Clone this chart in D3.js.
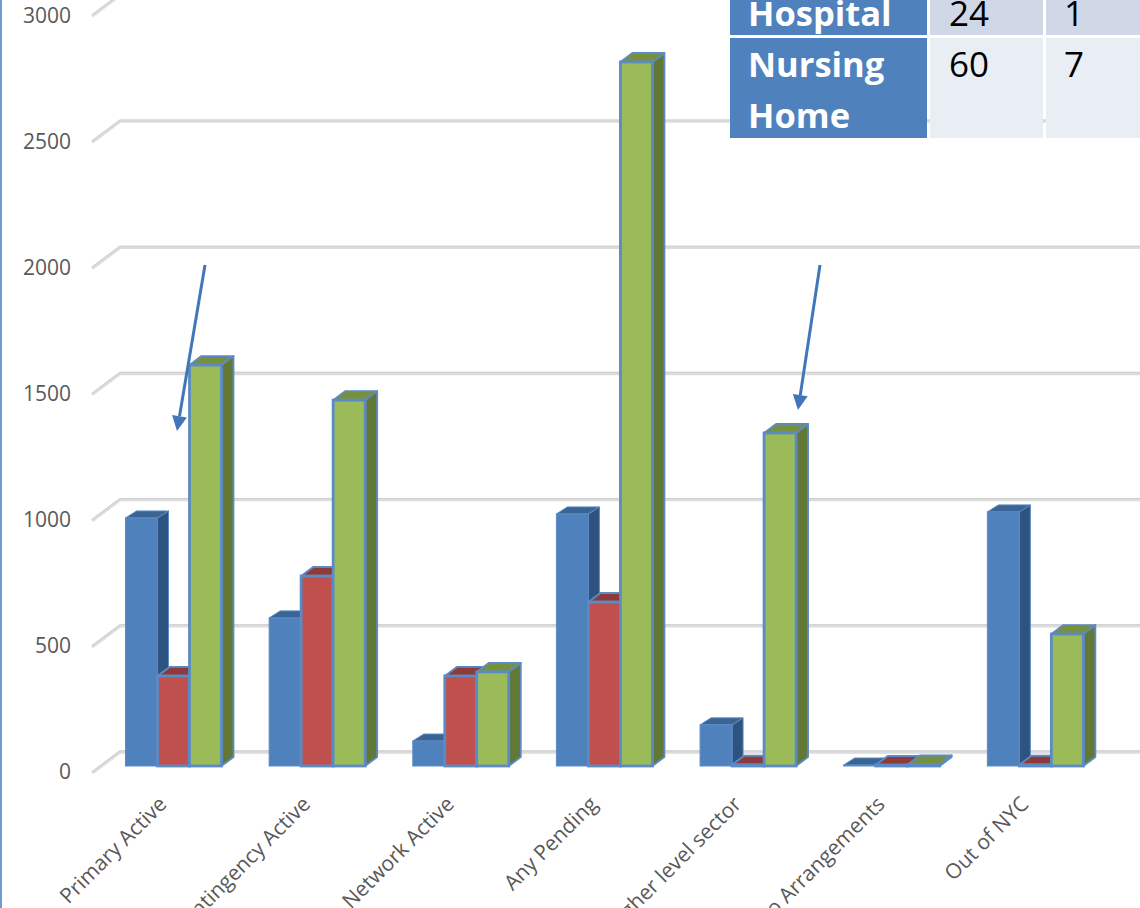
<!DOCTYPE html>
<html>
<head>
<meta charset="utf-8">
<script src="https://cdn.jsdelivr.net/npm/d3@7"></script>
<style>
html,body{margin:0;padding:0;background:#fff;overflow:hidden}
svg{display:block}
</style>
</head>
<body>
<svg id="chart" width="1140" height="908"></svg>
<script>
// Discharge arrangement counts by status, three-series 3D column chart
const categories = ["Primary Active","Contingency Active","Network Active","Any Pending","Higher level sector","No Arrangements","Out of NYC"];
const seriesA = [983,587,99,999,163,4,1007];
const seriesB = [357,753,357,650,5,4,5];
const seriesC = [1589,1450,373,2790,1320,6,523];
const yTicks = [0,500,1000,1500,2000,2500,3000];
const tableRows = [["Hospital","24","1",""],["Nursing\nHome","60","7",""]];

const svg = d3.select("#chart");
const fontFamily = "'Open Sans', sans-serif";

// Front plane of the columns, and the depth of both column and floor
const y = d3.scaleLinear().domain([0,3000]).range([766,9]);
const yLabel = d3.scaleLinear().domain([0,3000]).range([771,15]);
const x0 = d3.scaleBand().domain(categories).range([125.5,1131]).paddingInner(0).paddingOuter(0).align(0);
const x1 = d3.scaleBand().domain(["a","b","c"]).range([0,96]);
const wall = {dx:28, dy:-21};
const wallFront = {x:92, yOff:7};

// Page rule on the left edge
svg.append("rect").attr("x",0).attr("y",0).attr("width",2).attr("height",908).attr("fill","#6f9bd1");

// Gridlines: short floor segment plus the run along the back wall
const gridG = svg.append("g");
yTicks.forEach(t=>{
  const yf = y(t)+wallFront.yOff;
  const pts = [[wallFront.x,yf],[wallFront.x+wall.dx,yf+wall.dy],[1140,yf+wall.dy]];
  const line = d3.line();
  gridG.append("path").attr("d",line(pts)).attr("fill","none").attr("stroke","#dcdcdc").attr("stroke-width",3.4);
  gridG.append("path").attr("d",line(pts.map(p=>[p[0],p[1]-1.2]))).attr("fill","none").attr("stroke","#c4c4c4").attr("stroke-width",0.8).attr("opacity",0.7);
});

// Value axis labels
svg.append("g").selectAll("text").data(yTicks).join("text")
  .attr("x",71).attr("y",d=>yLabel(d)+7.5)
  .attr("text-anchor","end")
  .attr("font-family",fontFamily).attr("font-size",21).attr("fill","#595959")
  .text(d=>d);

// Category labels, rotated and anchored at their end
svg.append("g").selectAll("text").data(categories).join("text")
  .attr("transform",d=>`translate(${x0(d)+30},${793}) rotate(-45)`)
  .attr("text-anchor","end").attr("dominant-baseline","hanging")
  .attr("font-family",fontFamily).attr("font-size",21).attr("fill","#595959")
  .text(d=>d);

// One 3D column: right side, top, then front face
const palette = {
  a:{front:"#4f81bd",side:"#2f5380",top:"#3a6494",stroke:"#5b8bc6",sw:1,dx:11,dy:-7},
  b:{front:"#c0504d",side:"#8a3735",top:"#8f3a38",stroke:"#5b8bc6",sw:2.8,dx:12,dy:-9},
  c:{front:"#9bbb59",side:"#637836",top:"#76903f",stroke:"#5b8bc6",sw:2.8,dx:12,dy:-9}
};
function drawColumn(g,xLeft,width,top,bottom,c){
  const xr = xLeft+width;
  const poly = pts => pts.map(p=>p.join(",")).join(" ");
  const sideStroke = Math.min(c.sw,1.8);
  g.append("polygon").attr("points",poly([[xr,top],[xr+c.dx,top+c.dy],[xr+c.dx,bottom+c.dy],[xr,bottom]]))
    .attr("fill",c.side).attr("stroke",c.stroke).attr("stroke-width",sideStroke).attr("stroke-linejoin","round");
  g.append("polygon").attr("points",poly([[xLeft,top],[xLeft+c.dx,top+c.dy],[xr+c.dx,top+c.dy],[xr,top]]))
    .attr("fill",c.top).attr("stroke",c.stroke).attr("stroke-width",sideStroke).attr("stroke-linejoin","round");
  g.append("rect").attr("x",xLeft).attr("y",top).attr("width",width).attr("height",Math.max(0,bottom-top))
    .attr("fill",c.front).attr("stroke",c.stroke).attr("stroke-width",c.sw);
}

const series = [["a",seriesA],["b",seriesB],["c",seriesC]];
const barsG = svg.append("g");
categories.forEach((cat,i)=>{
  const g = barsG.append("g");
  series.forEach(([k,vals])=>{
    drawColumn(g,x0(cat)+x1(k),x1.bandwidth(),y(vals[i]),y(0),palette[k]);
  });
});

// Annotation arrows
const arrows = [
  {from:[205,265],to:[177,431]},
  {from:[820,265],to:[798,410]}
];
const arrowG = svg.append("g");
arrows.forEach(a=>{
  const ang = Math.atan2(a.to[1]-a.from[1],a.to[0]-a.from[0]);
  const len = 15, hw = 7.5;
  const bx = a.to[0]-len*Math.cos(ang), by = a.to[1]-len*Math.sin(ang);
  arrowG.append("line").attr("x1",a.from[0]).attr("y1",a.from[1]).attr("x2",bx).attr("y2",by)
    .attr("stroke","#4177ba").attr("stroke-width",3);
  arrowG.append("polygon").attr("fill","#4177ba").attr("points",[
    a.to,
    [bx+hw*Math.sin(ang),by-hw*Math.cos(ang)],
    [bx-hw*Math.sin(ang),by+hw*Math.cos(ang)]
  ].map(p=>p.join(",")).join(" "));
});

// Inset table running off the top and right edges
const colX = [730,930,1046];
const colW = [197,113,110];
const rowY = [-30,38];
const rowH = [65,100];
const tableG = svg.append("g");
tableRows.forEach((row,r)=>{
  colX.forEach((cx,c)=>{
    tableG.append("rect").attr("x",cx).attr("y",rowY[r]).attr("width",colW[c]).attr("height",rowH[r])
      .attr("fill",c===0?"#4f81bd":(r===0?"#d0d8e8":"#e9edf4"));
  });
  row[0].split("\n").forEach((ln,i)=>{
    tableG.append("text").attr("x",748).attr("y",r===1?77+i*51:26)
      .attr("font-family",fontFamily).attr("font-weight",700).attr("font-size",34.5).attr("fill","#fff").text(ln);
  });
  const ty = r===0?26:77;
  tableG.append("text").attr("x",949).attr("y",ty).attr("font-family",fontFamily).attr("font-size",35).attr("fill","#000").text(row[1]);
  tableG.append("text").attr("x",1064).attr("y",ty).attr("font-family",fontFamily).attr("font-size",35).attr("fill","#000").text(row[2]);
});
</script>
</body>
</html>
